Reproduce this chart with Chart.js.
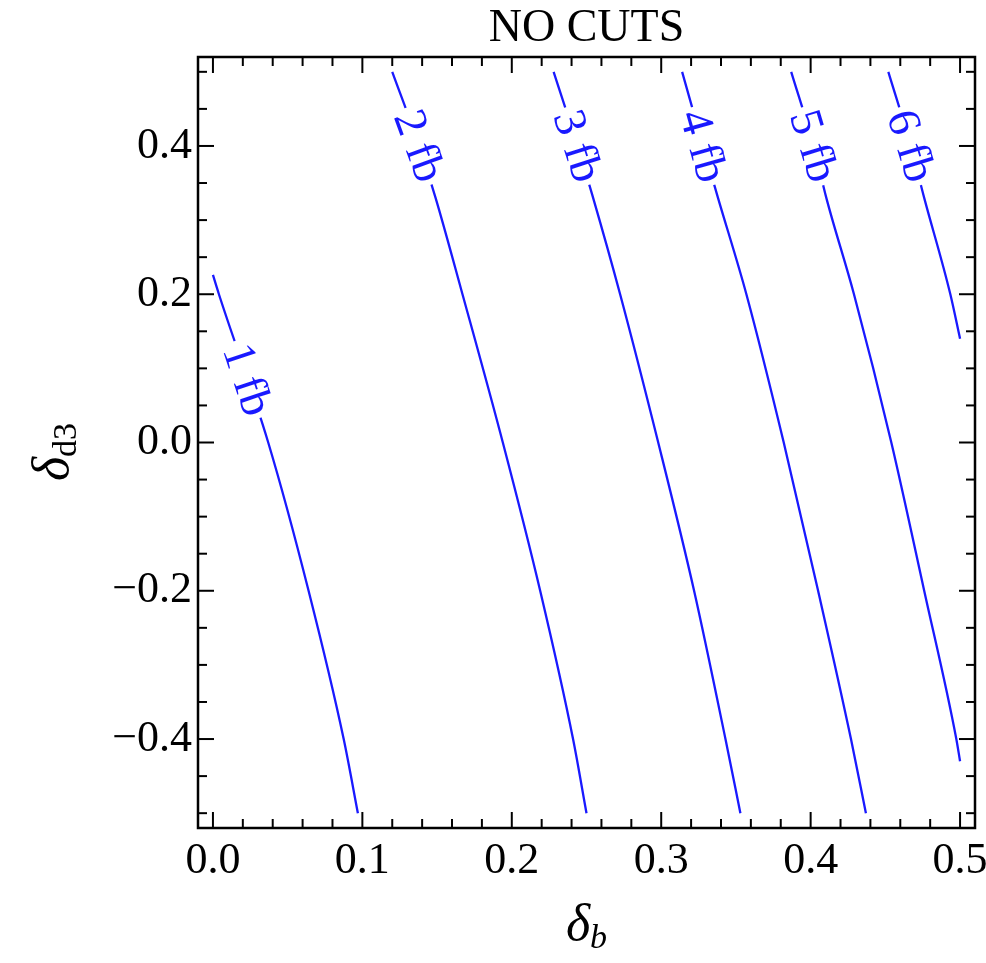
<!DOCTYPE html>
<html>
<head>
<meta charset="utf-8">
<script src="https://cdn.jsdelivr.net/npm/chart.js@4.4.1/dist/chart.umd.min.js"></script>
<style>
  body { margin: 0; background: #fff; }
  #chart { display: block; }
</style>
</head>
<body>
<canvas id="chart" width="986" height="963"></canvas>
<script>
// contour lines: x = delta_b, y = delta_d3
const levels = ['1 fb', '2 fb', '3 fb', '4 fb', '5 fb', '6 fb'];

const line1X = [0.000, 0.004, 0.037, 0.064, 0.0875, 0.097];
const line1Y = [0.226, 0.200, 0.000, -0.200, -0.400, -0.500];
const line2X = [0.120, 0.138, 0.149, 0.167, 0.194, 0.219, 0.241, 0.250];
const line2Y = [0.500, 0.400, 0.330, 0.200, 0.000, -0.200, -0.400, -0.500];
const line3X = [0.228, 0.244, 0.254, 0.2725, 0.298, 0.322, 0.343, 0.353];
const line3Y = [0.500, 0.400, 0.333, 0.200, 0.000, -0.200, -0.400, -0.500];
const line4X = [0.314, 0.328, 0.338, 0.357, 0.382, 0.405, 0.427, 0.437];
const line4Y = [0.500, 0.400, 0.330, 0.200, 0.000, -0.200, -0.400, -0.500];
const line5X = [0.387, 0.402, 0.4105, 0.429, 0.454, 0.476, 0.4975, 0.500];
const line5Y = [0.500, 0.400, 0.330, 0.200, 0.000, -0.200, -0.400, -0.430];
const line6X = [0.452, 0.467, 0.476, 0.4935, 0.500];
const line6Y = [0.500, 0.400, 0.330, 0.200, 0.140];

// where along each line (delta_d3 value) the level label sits
const labelAt = [0.085, 0.40, 0.40, 0.40, 0.40, 0.40];

const xTicks = [0, 0.1, 0.2, 0.3, 0.4, 0.5];
const yTicks = [-0.4, -0.2, 0, 0.2, 0.4];

const lineXs = [line1X, line2X, line3X, line4X, line5X, line6X];
const lineYs = [line1Y, line2Y, line3Y, line4Y, line5Y, line6Y];

const blue = 'rgb(25,25,255)';
const serif = '"Liberation Serif", "Times New Roman", serif';

const datasets = levels.map((lvl, i) => ({
    label: lvl,
    data: lineXs[i].map((x, k) => ({ x: x, y: lineYs[i][k] })),
    showLine: true,
    borderColor: blue,
    borderWidth: 2.3,
    pointRadius: 0,
    cubicInterpolationMode: 'monotone',
    fill: false
}));

function fmt(v) {
    const s = Math.abs(v).toFixed(1);
    return v < -1e-9 ? '\u2212' + s : s;
}

// level labels sitting on the lines, rotated along them
const contourLabels = {
    id: 'contourLabels',
    afterDatasetsDraw(chart) {
        const ctx = chart.ctx;
        const yScale = chart.scales.y;
        ctx.save();
        ctx.font = '46px ' + serif;
        ctx.textAlign = 'center';
        ctx.textBaseline = 'middle';
        chart.data.datasets.forEach((ds, i) => {
            const pts = chart.getDatasetMeta(i).data;
            const py = yScale.getPixelForValue(labelAt[i]);
            for (let k = 0; k < pts.length - 1; k++) {
                const a = pts[k], b = pts[k + 1];
                if (py >= a.y && py <= b.y) {
                    const t = (py - a.y) / (b.y - a.y);
                    const px = a.x + t * (b.x - a.x);
                    const ang = Math.atan2(b.y - a.y, b.x - a.x);
                    const w = ctx.measureText(ds.label).width;
                    ctx.save();
                    ctx.translate(px, py);
                    ctx.rotate(ang);
                    ctx.fillStyle = '#fff';
                    ctx.fillRect(-w / 2 - 4, -9, w + 8, 18);
                    ctx.fillStyle = blue;
                    ctx.fillText(ds.label, 0, 2);
                    ctx.restore();
                    break;
                }
            }
        });
        ctx.restore();
    }
};

// frame with inward ticks on all four sides, the title and the axis titles
const frame = {
    id: 'frame',
    afterDraw(chart) {
        const ctx = chart.ctx;
        const area = chart.chartArea;
        const xs = chart.scales.x, ys = chart.scales.y;
        ctx.save();
        ctx.strokeStyle = '#000';
        ctx.lineWidth = 2;
        const tick = (x1, y1, x2, y2) => {
            ctx.beginPath();
            ctx.moveTo(x1, y1);
            ctx.lineTo(x2, y2);
            ctx.stroke();
        };
        for (let k = 0; k <= 25; k++) {
            const px = xs.getPixelForValue(k * 0.02);
            const len = k % 5 === 0 ? 16 : 9;
            tick(px, area.bottom, px, area.bottom - len);
            tick(px, area.top, px, area.top + len);
        }
        for (let k = -10; k <= 10; k++) {
            const py = ys.getPixelForValue(k * 0.05);
            const len = k % 4 === 0 ? 16 : 9;
            tick(area.left, py, area.left + len, py);
            tick(area.right, py, area.right - len, py);
        }
        ctx.lineWidth = 2.5;
        ctx.strokeRect(area.left, area.top, area.right - area.left, area.bottom - area.top);

        const cx = (area.left + area.right) / 2;
        ctx.fillStyle = '#000';
        ctx.textBaseline = 'alphabetic';

        // title over the plot frame
        ctx.textAlign = 'center';
        ctx.font = '46px ' + serif;
        ctx.fillText('NO CUTS', cx, 41);

        // x title: delta_b
        ctx.textAlign = 'left';
        ctx.font = 'italic 52px ' + serif;
        const dW = ctx.measureText('\u03b4').width;
        ctx.font = 'italic 34px ' + serif;
        const bW = ctx.measureText('b').width;
        let x0 = cx - (dW + bW) / 2;
        ctx.font = 'italic 52px ' + serif;
        ctx.fillText('\u03b4', x0, 940);
        ctx.font = 'italic 34px ' + serif;
        ctx.fillText('b', x0 + dW, 948);

        // y title: delta_d3, rotated
        ctx.save();
        ctx.translate(54, 452);
        ctx.rotate(-Math.PI / 2);
        ctx.font = 'italic 52px ' + serif;
        const dW2 = ctx.measureText('\u03b4').width;
        ctx.font = '34px ' + serif;
        const sW = ctx.measureText('d3').width;
        x0 = -(dW2 + sW) / 2;
        ctx.font = 'italic 52px ' + serif;
        ctx.fillText('\u03b4', x0, 14);
        ctx.font = '34px ' + serif;
        ctx.fillText('d3', x0 + dW2, 22);
        ctx.restore();
        ctx.restore();
    }
};

new Chart(document.getElementById('chart'), {
    type: 'scatter',
    data: { datasets: datasets },
    options: {
        responsive: false,
        animation: false,
        devicePixelRatio: 1,
        layout: { padding: { left: 0, right: 11, top: 57, bottom: 0 } },
        plugins: {
            legend: { display: false },
            tooltip: { enabled: false },
            title: { display: false }
        },
        scales: {
            x: {
                type: 'linear',
                min: -0.01,
                max: 0.51,
                grid: { display: false, drawTicks: false },
                border: { display: false },
                afterBuildTicks: s => { s.ticks = xTicks.map(v => ({ value: v })); },
                afterFit: s => { s.height = 135; s.paddingLeft = 0; s.paddingRight = 0; },
                ticks: {
                    color: '#000',
                    padding: 7,
                    maxRotation: 0,
                    font: { family: serif, size: 44 },
                    callback: v => fmt(v)
                }
            },
            y: {
                type: 'linear',
                min: -0.52,
                max: 0.52,
                grid: { display: false, drawTicks: false },
                border: { display: false },
                afterBuildTicks: s => { s.ticks = yTicks.map(v => ({ value: v })); },
                afterFit: s => { s.width = 198; s.paddingTop = 0; s.paddingBottom = 0; },
                ticks: {
                    color: '#000',
                    padding: 6,
                    font: { family: serif, size: 44 },
                    callback: v => fmt(v)
                }
            }
        }
    },
    plugins: [contourLabels, frame]
});
</script>
</body>
</html>
